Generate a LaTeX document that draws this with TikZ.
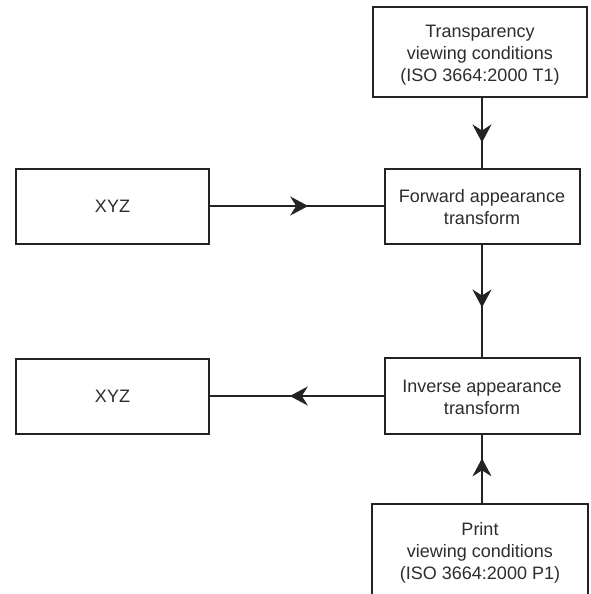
\documentclass[tikz,border=0pt]{standalone}
\usepackage{fontspec}
\setmainfont{Liberation Sans}
\usetikzlibrary{arrows.meta,decorations.markings}
\definecolor{ln}{RGB}{35,35,35}
\definecolor{tx}{RGB}{45,45,45}
\newcommand\boxtext[1]{\raisebox{-3pt}[\height][\depth]{\begin{tabular}{@{}c@{}}#1\end{tabular}}}
\begin{document}
\begin{tikzpicture}[x=1pt,y=-1pt,
  box/.style={draw=ln,line width=2pt,rectangle,inner sep=0pt,align=center,text=tx,
    font=\fontsize{18}{22}\selectfont},
  conn/.style={draw=ln,line width=2pt,postaction={decorate},
    decoration={markings,mark=at position #1 with {\arrow{Stealth[length=18pt,width=19pt,inset=6pt]}}}}
]
\useasboundingbox (0,0) rectangle (590,594);
\fill[white] (0,0) rectangle (590,594);

\node[box,minimum width=214pt,minimum height=90pt] (tv) at (480,52)
  {\boxtext{Transparency\\viewing conditions\\(ISO 3664:2000 T1)}};
\node[box,minimum width=195pt,minimum height=75pt] (fwd) at (482,206)
  {\boxtext{Forward appearance\\transform}};
\node[box,minimum width=195pt,minimum height=76pt] (inv) at (482,396)
  {\boxtext{Inverse appearance\\transform}};
\node[box,minimum width=193pt,minimum height=75pt] (xyz1) at (112.5,206) {XYZ};
\node[box,minimum width=193pt,minimum height=75pt] (xyz2) at (112.5,396) {XYZ};
\node[box,minimum width=216pt,minimum height=92pt] (pv) at (480,550)
  {\boxtext{Print\\viewing conditions\\(ISO 3664:2000 P1)}};

\draw[conn=0.64] (tv.south -| fwd.north) -- (fwd.north);
\draw[conn=0.566] (xyz1) -- (fwd);
\draw[conn=0.56] (fwd) -- (inv);
\draw[conn=0.54] (inv) -- (xyz2);
\draw[conn=0.657] (pv.north -| inv.south) -- (inv.south);
\end{tikzpicture}
\end{document}
